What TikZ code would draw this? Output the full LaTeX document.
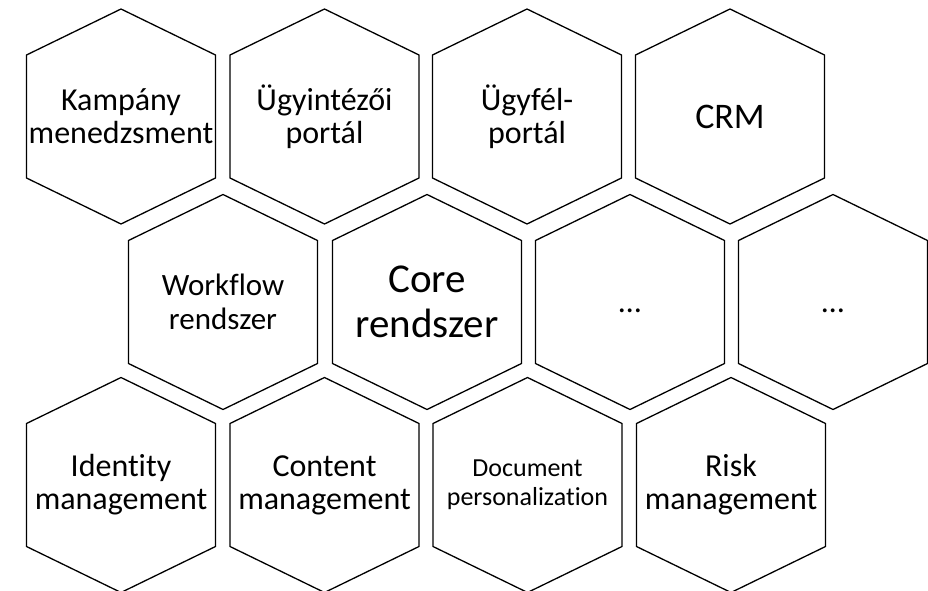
\documentclass[tikz,border=0pt]{standalone}
\usepackage{fontspec}
\setmainfont{Carlito}[Ligatures=NoCommon]

\tikzset{
  cell/.style={align=center, inner sep=0pt, font=\fontsize{32}{33}\selectfont},
  hexline/.style={draw=black, line width=1.3pt}
}

\begin{document}
\begin{tikzpicture}[x=1pt, y=1pt]
\useasboundingbox (0,0) rectangle (928,-591);
% top row
\node [cell] (kamp) at (121,-116.5) {Kampány\\menedzsment};
\node [cell] (ugyi) at (324.5,-116.5) {Ügyintézői\\portál};
\node [cell] (ugyf) at (527,-116.5) {Ügyfél-\\portál};
\node [cell, font=\fontsize{36}{38}\selectfont] (crm) at (730,-116.5) {CRM};
% middle row
\node [cell, font=\fontsize{31}{34}\selectfont] (work) at (223,-302) {Workflow\\rendszer};
\node [cell, font=\fontsize{41}{45}\selectfont] (core) at (427,-302) {Core\\rendszer};
\node [cell] (dotsa) at (630,-302) {\vphantom{Ág}…};
\node [cell] (dotsb) at (833,-302) {\vphantom{Ág}…};
% bottom row
\node [cell] (iden) at (121,-485) {Identity\\management};
\node [cell] (cont) at (324.5,-485) {Content\\management};
\node [cell, font=\fontsize{26}{29}\selectfont] (docu) at (527.5,-485) {Document\\personalization};
\node [cell] (risk) at (731,-485) {Risk\\management};

\foreach \n in {kamp,ugyi,ugyf,crm,work,core,dotsa,dotsb,iden,cont,docu,risk}
  \draw [hexline] ([shift={(0,107.5)}]\n.center) -- ([shift={(94.5,61.5)}]\n.center)
    -- ([shift={(94.5,-61.5)}]\n.center) -- ([shift={(0,-107.5)}]\n.center)
    -- ([shift={(-94.5,-61.5)}]\n.center) -- ([shift={(-94.5,61.5)}]\n.center) -- cycle;
\end{tikzpicture}
\end{document}
